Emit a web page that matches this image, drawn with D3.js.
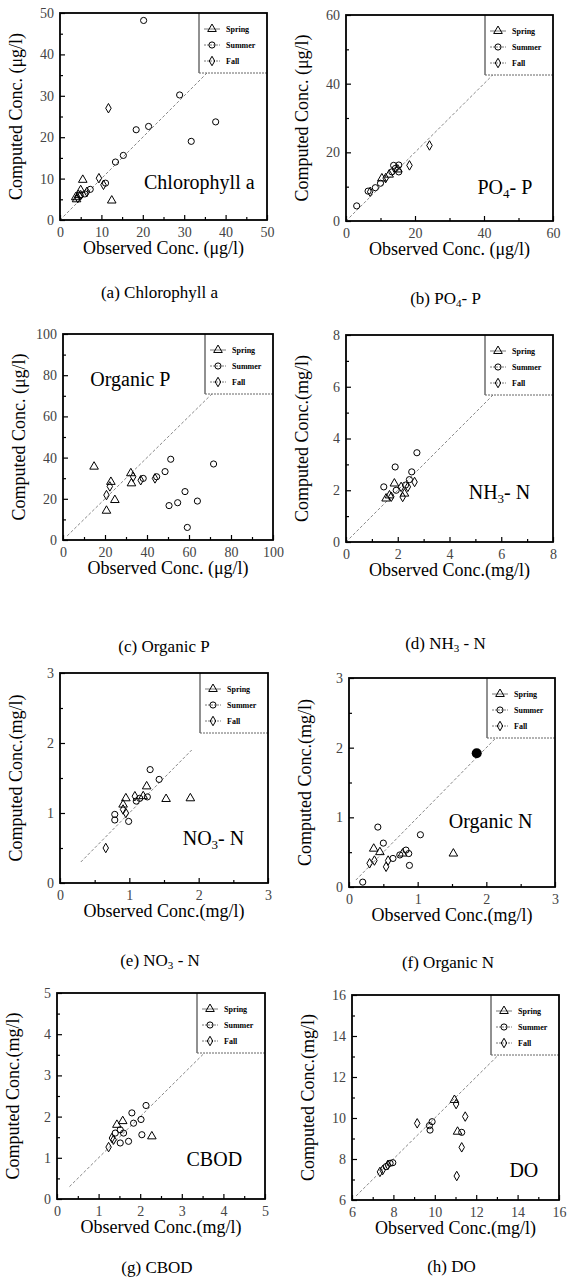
<!DOCTYPE html>
<html lang="en">
<head>
<meta charset="UTF-8">
<title>Observed vs computed concentrations</title>
<style>
    body { margin: 0; background: #fff; }
    svg { font-family: "Liberation Serif", "Times New Roman", serif; }
    .tick text { fill: #444; font-size: 14px; font-family: "Liberation Serif", serif; }
    .tick line { stroke: #000; stroke-width: 1.2px; }
    .domain { display: none; }
    .frame { fill: none; stroke: #000; stroke-width: 1.8px; }
    .diag { stroke: #888; stroke-width: 1px; stroke-dasharray: 3,2; fill: none; }
    .mark { fill: none; stroke: #000; stroke-width: 1px; }
    .axis-title { font-size: 18px; fill: #000; }
    .inner-label { font-size: 20px; fill: #000; }
    .caption { font-size: 17px; fill: #000; }
    .legend text { font-size: 8px; font-weight: bold; fill: #000; }
</style>
</head>
<body>
<svg id="fig" width="576" height="1284"></svg>
<script src="https://d3js.org/d3.v7.min.js"></script>
<script>
// ---- data: [observed, computed] ----
const seasons = ["Spring", "Summer", "Fall"];

// (a) Chlorophyll a (ug/l)
const chlaSpring = [[5.5, 9.7], [12.5, 4.7], [4, 5], [4.5, 6], [5, 7.2], [3.8, 5.5]];
const chlaSummer = [[20.2, 48.2], [28.9, 30.2], [21.4, 22.6], [18.4, 21.8], [31.7, 19], [37.6, 23.7],
                    [15.3, 15.6], [13.4, 14], [7.3, 7.4], [11, 8.9], [6, 6.3]];
const chlaFall = [[11.7, 27], [9.4, 10.1], [10.5, 8.5], [6.5, 6.8], [5, 6], [4.3, 5.3]];

// (b) PO4-P (ug/l)
const po4Spring = [[10.4, 12.4], [12.5, 13.5], [15, 15]];
const po4Summer = [[3.1, 4.4], [6.4, 8.7], [8.5, 9.7], [13.3, 14.3], [13.8, 16.2], [15.3, 16.3],
                   [15.3, 14.3], [14.3, 15.3], [10, 11]];
const po4Fall = [[18.4, 16.2], [24.2, 22], [7, 8.5], [11.5, 12.5]];

// (c) Organic P (ug/l)
const opSpring = [[14.8, 35.6], [22.8, 28.2], [20.7, 14.2], [24.7, 19.4], [32.3, 32.4], [32.6, 27.5]];
const opSummer = [[51.3, 39.2], [71.7, 36.9], [58.1, 23.5], [64, 18.9], [54.6, 18.1], [50.5, 16.7],
                  [59.2, 6.1], [38.2, 29.9], [48.6, 33.2], [44.6, 30.7]];
const opFall = [[20.7, 21.8], [22.3, 26], [43.8, 29.9], [33.4, 30.7], [37, 29]];

// (d) NH3-N (mg/l)
const nh3Spring = [[1.55, 1.68], [1.68, 1.8], [1.87, 2.26], [2.26, 1.87]];
const nh3Summer = [[2.74, 3.45], [1.9, 2.9], [1.46, 2.13], [2.54, 2.71], [1.94, 2.0], [2.45, 2.41], [2.3, 2.2]];
const nh3Fall = [[2.65, 2.32], [2.19, 1.74], [2.13, 2.13], [2.39, 2.13], [1.75, 1.75]];

// (e) NO3-N (mg/l)
const no3Spring = [[1.25, 1.38], [1.53, 1.2], [1.88, 1.21], [0.95, 1.21], [0.91, 1.12], [1.2, 1.24]];
const no3Summer = [[1.3, 1.62], [1.43, 1.48], [1.15, 1.21], [1.1, 1.17], [0.79, 0.9], [0.79, 0.98],
                   [0.99, 0.88], [1.26, 1.23]];
const no3Fall = [[0.66, 0.5], [0.91, 1.05], [1.08, 1.24], [0.95, 1.0]];

// (f) Organic N (mg/l)
const onSpring = [[1.52, 0.48], [0.36, 0.55], [0.45, 0.5], [0.78, 0.48]];
const onSummer = [[1.04, 0.75], [0.42, 0.86], [0.2, 0.07], [0.88, 0.31], [0.83, 0.53], [0.87, 0.48],
                  [0.64, 0.41], [0.5, 0.63], [0.74, 0.46]];
const onFall = [[0.54, 0.29], [0.37, 0.38], [0.3, 0.34], [0.57, 0.38]];
const onFilled = [[1.86, 1.92]];

// (g) CBOD (mg/l)
const cbodSpring = [[2.28, 1.52], [1.58, 1.89], [1.44, 1.8]];
const cbodSummer = [[2.14, 2.27], [1.8, 2.09], [2.02, 1.93], [1.84, 1.84], [2.04, 1.56], [1.52, 1.68],
                    [1.4, 1.6], [1.52, 1.36], [1.72, 1.4], [1.6, 1.6]];
const cbodFall = [[1.32, 1.48], [1.24, 1.26], [1.36, 1.44]];

// (h) DO (mg/l)
const doSpring = [[10.95, 10.88], [11.1, 9.33]];
const doSummer = [[9.74, 9.63], [9.87, 9.82], [9.77, 9.41], [11.3, 9.3], [7.65, 7.63], [7.84, 7.79], [7.97, 7.82]];
const doFall = [[9.15, 9.74], [11.03, 10.68], [11.47, 10.07], [11.3, 8.57], [11.06, 7.17],
                [7.48, 7.46], [7.35, 7.37], [7.73, 7.71]];

// tick labels
const ticksChla = [0, 10, 20, 30, 40, 50];
const ticksPo4 = [0, 20, 40, 60];
const ticksOp = [0, 20, 40, 60, 80, 100];
const ticksNh3 = [0, 2, 4, 6, 8];
const ticksN3 = [0, 1, 2, 3];
const ticksCbod = [0, 1, 2, 3, 4, 5];
const ticksDo = [6, 8, 10, 12, 14, 16];

// text
const captions = ["(a) Chlorophyll a", "(b) PO_4- P", "(c) Organic P", "(d) NH_3 - N",
                  "(e) NO_3 - N", "(f) Organic N", "(g) CBOD", "(h) DO"];
const innerLabels = ["Chlorophyll a", "PO_4- P", "Organic P", "NH_3- N", "NO_3- N", "Organic N", "CBOD", "DO"];
const xTitleUg = "Observed Conc. (\u03bcg/l)", yTitleUg = "Computed Conc. (\u03bcg/l)";
const xTitleMg = "Observed Conc.(mg/l)", yTitleMg = "Computed Conc.(mg/l)";

// ---- layout: frame box, label placement, diagonal extent ----
const panels = [
    { box: [60, 13, 207, 207], ticks: ticksChla, pts: [chlaSpring, chlaSummer, chlaFall], diag: [0, 50],
      lab: [0.94, 0.85, "end"], capY: 298, ug: true },
    { box: [346, 15, 207, 206], ticks: ticksPo4, pts: [po4Spring, po4Summer, po4Fall], diag: [0, 60],
      lab: [0.9, 0.87, "end"], capY: 304, ug: true },
    { box: [63, 334, 210, 206], ticks: ticksOp, pts: [opSpring, opSummer, opFall], diag: [2, 100],
      lab: [0.13, 0.25, "start"], capY: 652, ug: true },
    { box: [346, 335, 207, 207], ticks: ticksNh3, pts: [nh3Spring, nh3Summer, nh3Fall], diag: [0, 8],
      lab: [0.89, 0.79, "end"], capY: 649, ug: false },
    { box: [60, 673, 208, 210], ticks: ticksN3, pts: [no3Spring, no3Summer, no3Fall], diag: [0.3, 1.9],
      lab: [0.59, 0.82, "start"], capY: 966, ug: false },
    { box: [349, 678, 206, 209], ticks: ticksN3, pts: [onSpring, onSummer, onFall], diag: [0.1, 3],
      lab: [0.89, 0.72, "end"], capY: 968, ug: false, filled: onFilled },
    { box: [57, 993, 208, 206], ticks: ticksCbod, pts: [cbodSpring, cbodSummer, cbodFall], diag: [0.3, 5],
      lab: [0.89, 0.84, "end"], capY: 1273, ug: false },
    { box: [352, 995, 207, 205], ticks: ticksDo, pts: [doSpring, doSummer, doFall], diag: [6.2, 16],
      lab: [0.9, 0.89, "end"], capY: 1272, ug: false }
];

const svg = d3.select("#fig");
const symbols = [d3.symbolTriangle, d3.symbolCircle, d3.symbolDiamond];
const symSize = [32, 30, 26];

// text with "_d" marking a subscript digit
function richText(sel, str, size) {
    const parts = str.split(/_(\d)/);
    parts.forEach((p, i) => {
        if (p === "") return;
        const sub = i % 2 === 1;
        const t = sel.append("tspan").text(p);
        if (sub) t.attr("font-size", size * 0.65).attr("dy", size * 0.2);
        else if (i > 0) t.attr("dy", -size * 0.2);
    });
}

panels.forEach((p, i) => {
    const [left, top, w, h] = p.box;
    const t = p.ticks;
    const dom = [t[0], t[t.length - 1]];
    const step = t[1] - t[0];
    const minor = d3.range(dom[0] + step / 2, dom[1], step);

    const x = d3.scaleLinear().domain(dom).range([0, w]);
    const y = d3.scaleLinear().domain(dom).range([h, 0]);

    const g = svg.append("g").attr("transform", "translate(" + left + "," + top + ")");

    // axes with inward ticks
    g.append("g").attr("transform", "translate(0," + h + ")")
        .call(d3.axisBottom(x).tickValues(t).tickSize(-5).tickPadding(7).tickFormat(d3.format("d")));
    g.append("g").attr("transform", "translate(0," + h + ")")
        .call(d3.axisBottom(x).tickValues(minor).tickSize(-3).tickFormat(""));
    g.append("g")
        .call(d3.axisLeft(y).tickValues(t).tickSize(-5).tickPadding(6).tickFormat(d3.format("d")));
    g.append("g")
        .call(d3.axisLeft(y).tickValues(minor).tickSize(-3).tickFormat(""));

    // 1:1 line
    g.append("line").attr("class", "diag")
        .attr("x1", x(p.diag[0])).attr("y1", y(p.diag[0]))
        .attr("x2", x(p.diag[1])).attr("y2", y(p.diag[1]));

    // points
    p.pts.forEach((arr, k) => {
        g.selectAll(null).data(arr).enter().append("path")
            .attr("class", "mark")
            .attr("d", d3.symbol().type(symbols[k]).size(symSize[k]))
            .attr("transform", d => "translate(" + x(d[0]) + "," + y(d[1]) + ")");
    });
    if (p.filled) {
        g.selectAll(null).data(p.filled).enter().append("circle")
            .attr("cx", d => x(d[0])).attr("cy", d => y(d[1])).attr("r", 5)
            .attr("fill", "#000");
    }

    // legend box in the upper right corner
    const lw = 68, lh = 60;
    const lg = g.append("g").attr("class", "legend").attr("transform", "translate(" + (w - lw) + ",0)");
    lg.append("rect").attr("width", lw).attr("height", lh).attr("fill", "#fff");
    lg.append("line").attr("x1", 0).attr("y1", 0).attr("x2", 0).attr("y2", lh)
        .attr("stroke", "#222").attr("stroke-width", 1);
    lg.append("line").attr("x1", 0).attr("y1", lh).attr("x2", lw).attr("y2", lh)
        .attr("stroke", "#666").attr("stroke-width", 1).attr("stroke-dasharray", "2,1");
    seasons.forEach((s, k) => {
        const ry = 16 + k * 16;
        lg.append("line").attr("x1", 5).attr("x2", 21).attr("y1", ry).attr("y2", ry)
            .attr("stroke", "#555").attr("stroke-width", 0.8)
            .attr("stroke-dasharray", k === 0 ? null : "2,1");
        lg.append("path").attr("class", "mark")
            .attr("d", d3.symbol().type(symbols[k]).size(symSize[k]))
            .attr("transform", "translate(13," + ry + ")")
            .attr("fill", "#fff");
        lg.append("text").attr("x", 27).attr("y", ry + 3).text(s);
    });

    // frame
    g.append("rect").attr("class", "frame").attr("width", w).attr("height", h);

    // label inside plot
    const il = g.append("text").attr("class", "inner-label")
        .attr("x", p.lab[0] * w).attr("y", p.lab[1] * h).attr("text-anchor", p.lab[2]);
    richText(il, innerLabels[i], 20);

    // axis titles
    g.append("text").attr("class", "axis-title")
        .attr("x", w / 2).attr("y", h + 34).attr("text-anchor", "middle")
        .text(p.ug ? xTitleUg : xTitleMg);
    g.append("text").attr("class", "axis-title")
        .attr("transform", "translate(" + (-38) + "," + (h / 2) + ") rotate(-90)")
        .attr("text-anchor", "middle")
        .text(p.ug ? yTitleUg : yTitleMg);

    // caption under the panel
    const cap = svg.append("text").attr("class", "caption")
        .attr("x", left + w / 2 - 4).attr("y", p.capY).attr("text-anchor", "middle");
    richText(cap, captions[i], 17);
});
</script>
</body>
</html>
